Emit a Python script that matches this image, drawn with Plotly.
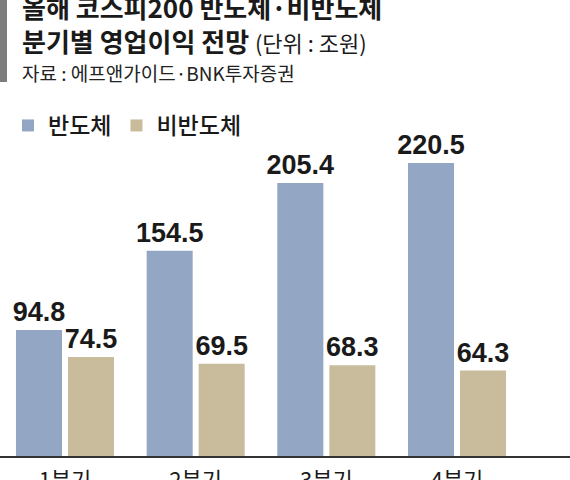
import plotly.graph_objects as go

quarters = ["1분기", "2분기", "3분기", "4분기"]
semi = [94.8, 154.5, 205.4, 220.5]
non_semi = [74.5, 69.5, 68.3, 64.3]
series_names = ["반도체", "비반도체"]

title1 = "올해 코스피200 반도체·비반도체"
title2 = "분기별 영업이익 전망"
unit = "(단위 : 조원)"
source = "자료 : 에프앤가이드·BNK투자증권"

KR = "Noto Sans CJK KR"
NUM = "Liberation Sans Narrow, Arial Narrow, Liberation Sans, sans-serif"
BLUE = "#93a6c4"
BEIGE = "#c9bc9c"
TXT = "#1a1a1a"

W, H = 570, 480
mt, mb = 100, 24
plot_h = H - mt - mb

def py(p):
    return (H - mb - p) / plot_h

fig = go.Figure()
for name, vals, col in [(series_names[0], semi, BLUE), (series_names[1], non_semi, BEIGE)]:
    fig.add_trace(go.Bar(
        x=quarters, y=vals, name=name, marker=dict(color=col, line=dict(width=0)),
        text=[f"{v:.1f}" for v in vals], textposition="outside",
        textfont=dict(family=NUM, size=27, color=TXT, weight="bold"),
        cliponaxis=False,
    ))

fig.update_layout(
    width=W, height=H,
    margin=dict(l=0, r=0, t=mt, b=mb, autoexpand=False),
    paper_bgcolor="white", plot_bgcolor="white",
    barmode="group", bargap=0.204, bargroupgap=0.115,
    showlegend=True,
    legend=dict(orientation="h", x=0.014, xanchor="left", y=py(104), yanchor="top",
                font=dict(family=KR, size=23, color=TXT, weight=500), bgcolor="rgba(0,0,0,0)",
                traceorder="normal", itemclick=False),
    xaxis=dict(range=[-0.4974, 3.8647], showline=True, linecolor="#333333", linewidth=1.5,
               ticks="", tickfont=dict(family=KR, size=22, color=TXT), automargin=False,
               ticklabelstandoff=4, showgrid=False, zeroline=False),
    yaxis=dict(range=[0, plot_h / 1.329], visible=False, showgrid=False, zeroline=False,
               automargin=False),
    uniformtext=dict(mode="show", minsize=27),
)

fig.add_shape(type="rect", xref="paper", yref="paper", x0=0, x1=7 / W, y0=py(82), y1=py(-5),
              fillcolor="#7d7d7d", line=dict(width=0), layer="above")

fig.add_annotation(xref="paper", yref="paper", x=20 / W, y=py(7), xanchor="left", yanchor="middle",
                   text=f"<b>{title1}</b>", showarrow=False,
                   font=dict(family=KR, size=26, color=TXT))
fig.add_annotation(xref="paper", yref="paper", x=20 / W, y=py(40), xanchor="left", yanchor="middle",
                   text=f"<b>{title2}</b> <span style='font-size:22px;font-weight:normal'>{unit}</span>",
                   showarrow=False, font=dict(family=KR, size=26, color=TXT))
fig.add_annotation(xref="paper", yref="paper", x=20 / W, y=py(72), xanchor="left", yanchor="middle",
                   text=source, showarrow=False, font=dict(family=KR, size=19, color="#222222"))

fig.write_html("out.html")
